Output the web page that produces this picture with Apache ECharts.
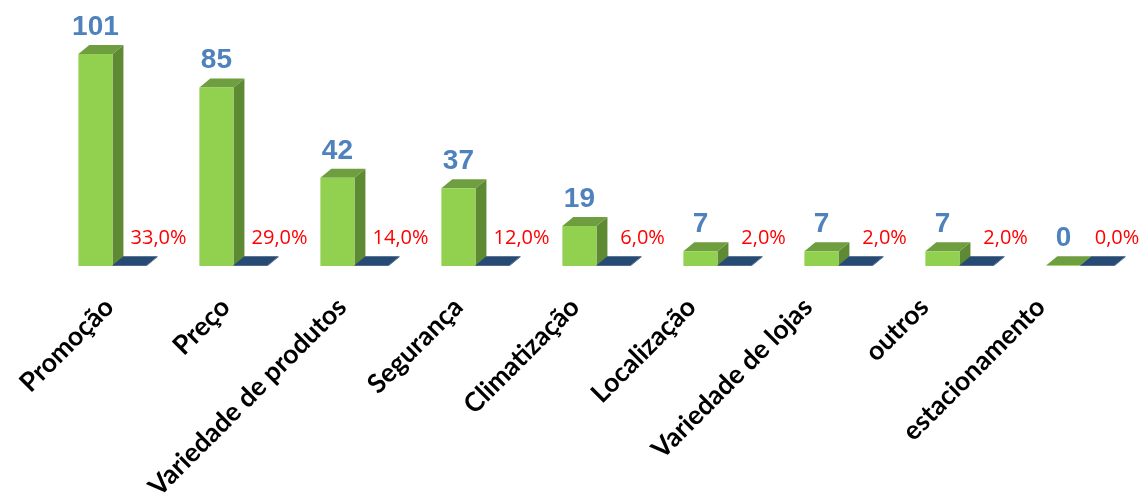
<!DOCTYPE html>
<html><head><meta charset="utf-8">
<script src="https://cdn.jsdelivr.net/npm/echarts@6/dist/echarts.min.js"></script>
<style>html,body{margin:0;padding:0;background:#fff}#c{width:1143px;height:503px}</style>
</head><body><div id="c"></div>
<script>
const categories = ['Promoção','Preço','Variedade de produtos','Segurança','Climatização','Localização','Variedade de lojas','outros','estacionamento'];
const counts = [101, 85, 42, 37, 19, 7, 7, 7, 0];
const percents = [33.0, 29.0, 14.0, 12.0, 6.0, 2.0, 2.0, 2.0, 0.0];

const chart = echarts.init(document.getElementById('c'));

function box(api, idx, val, side, colors) {
  const base = api.coord([idx, 0]);
  const top = api.coord([idx, val]);
  const band = api.size([1, 0])[0];
  const w = band * 0.282;
  const dx = w * 0.32, dy = 9;
  const x0 = side === 0 ? base[0] - w : base[0];
  const x1 = x0 + w;
  const yb = base[1], yt = Math.min(top[1], yb - 0.7);
  return {
    x0, x1, yt, yb, w,
    children: [
      {type:'polygon', shape:{points:[[x1,yb],[x1+dx,yb-dy],[x1+dx,yt-dy],[x1,yt]]}, style:{fill:colors[1]}},
      {type:'polygon', shape:{points:[[x0,yt],[x0+dx,yt-dy],[x1+dx,yt-dy],[x1,yt]]}, style:{fill:colors[2]}},
      {type:'rect', shape:{x:x0, y:yt, width:w, height:yb-yt}, style:{fill:colors[0]}}
    ]
  };
}

chart.setOption({
  animation: false,
  grid: [
    {left: 52, right: 2, top: 14, bottom: 237},
    {left: 58, right: 37, top: 14, bottom: 237}
  ],
  xAxis: [
    {type: 'category', data: categories, gridIndex: 0,
     axisLine: {show: false}, axisTick: {show: false}, axisLabel: {show: false}},
    {type: 'category', data: categories, gridIndex: 1,
     axisLine: {show: false}, axisTick: {show: false},
     axisLabel: {rotate: 45, margin: 33, padding: [0, 10, 0, 0], interval: 0, fontFamily: 'Lato', fontWeight: 'bold', fontSize: 26.5, color: '#000'}}
  ],
  yAxis: [
    {type: 'value', min: 0, max: 120, show: false, gridIndex: 0},
    {type: 'value', min: 0, max: 120, show: false, gridIndex: 1}
  ],
  series: [
    {
      type: 'custom', name: 'count', data: counts.map((v, i) => [i, v]),
      xAxisIndex: 0, yAxisIndex: 0,
      encode: {x: 0, y: 1},
      renderItem: function (params, api) {
        const idx = params.dataIndex;
        const b = box(api, idx, api.value(1), 0, ['#92D050', '#5E8A33', '#6E9E3F']);
        const kids = b.children.slice();
        kids.push({type:'text', style:{text: String(counts[idx]), x:(b.x0+b.x1)/2, y:b.yt - 27, align:'center', verticalAlign:'middle',
          fill:'#4F81BD', font:'bold 28px "Liberation Sans", Arial'}});
        return {type:'group', children:kids};
      }
    },
    {
      type: 'custom', name: 'pct', data: percents.map((p, i) => [i, p / 100]),
      xAxisIndex: 0, yAxisIndex: 0,
      encode: {x: 0, y: 1},
      renderItem: function (params, api) {
        const idx = params.dataIndex;
        const b = box(api, idx, api.value(1), 1, ['#264A73', '#1F3D60', '#264A73']);
        const kids = b.children.slice();
        const lx = Math.min((b.x0+b.x1)/2 + 29, api.getWidth() - 26);
        kids.push({type:'text', style:{text: percents[idx].toFixed(1).replace('.', ',') + '%', x:lx, y:b.yb - 28, align:'center', verticalAlign:'middle',
          fill:'#FF0000', font:'20px "Open Sans"'}});
        return {type:'group', children:kids};
      }
    }
  ]
});
</script></body></html>
